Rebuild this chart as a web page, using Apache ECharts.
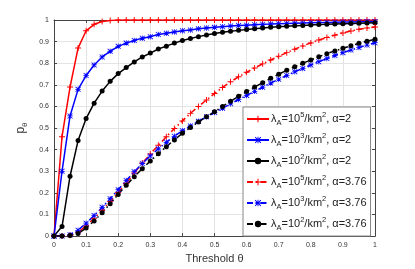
<!DOCTYPE html>
<html><head><meta charset="utf-8">
<script src="https://cdn.jsdelivr.net/npm/echarts@6/dist/echarts.min.js"></script>
<style>html,body{margin:0;padding:0;background:#fff}#c{width:415px;height:269px}</style>
</head><body><div id="c"></div>
<script>
const thresholds = [0,0.025,0.05,0.075,0.1,0.125,0.15,0.175,0.2,0.225,0.25,0.275,0.3,0.325,0.35,0.375,0.4,0.425,0.45,0.475,0.5,0.525,0.55,0.575,0.6,0.625,0.65,0.675,0.7,0.725,0.75,0.775,0.8,0.825,0.85,0.875,0.9,0.925,0.95,0.975,1];
const pL5a2 = [0,0.46,0.69,0.87,0.95,0.98,0.993,0.998,1,1,1,1,1,1,1,1,1,1,1,1,1,1,1,1,1,1,1,1,1,1,1,1,1,1,1,1,1,1,1,1,1];
const pL3a2 = [0,0.30,0.556,0.679,0.743,0.792,0.829,0.855,0.878,0.893,0.905,0.916,0.923,0.933,0.939,0.945,0.95,0.954,0.959,0.963,0.966,0.969,0.972,0.974,0.976,0.978,0.98,0.981,0.983,0.984,0.985,0.986,0.987,0.988,0.989,0.99,0.991,0.991,0.992,0.993,0.993];
const pL2a2 = [0,0.044,0.277,0.442,0.544,0.615,0.671,0.716,0.752,0.78,0.806,0.829,0.847,0.866,0.879,0.893,0.905,0.914,0.923,0.931,0.937,0.943,0.948,0.952,0.956,0.96,0.963,0.966,0.969,0.971,0.973,0.975,0.977,0.979,0.98,0.982,0.983,0.984,0.985,0.986,0.987];
const pL5a376 = [0,0,0.004,0.018,0.047,0.082,0.12,0.16,0.202,0.245,0.292,0.338,0.38,0.42,0.46,0.498,0.533,0.568,0.6,0.63,0.66,0.688,0.714,0.737,0.758,0.778,0.797,0.815,0.832,0.849,0.865,0.88,0.894,0.907,0.919,0.93,0.94,0.949,0.957,0.963,0.968];
const pL3a376 = [0,0,0.006,0.027,0.06,0.095,0.133,0.173,0.215,0.257,0.298,0.336,0.371,0.404,0.434,0.462,0.488,0.51,0.531,0.552,0.572,0.592,0.612,0.632,0.651,0.67,0.689,0.708,0.726,0.743,0.76,0.776,0.792,0.807,0.822,0.836,0.849,0.861,0.873,0.884,0.895];
const pL2a376 = [0,0,0.003,0.012,0.037,0.07,0.108,0.15,0.193,0.235,0.275,0.312,0.347,0.381,0.414,0.445,0.476,0.503,0.528,0.552,0.575,0.6,0.624,0.647,0.669,0.69,0.71,0.73,0.749,0.767,0.784,0.8,0.815,0.83,0.844,0.857,0.869,0.881,0.892,0.902,0.911];
const seriesNames = ['λA=10^5/km^2, α=2','λA=10^3/km^2, α=2','λA=10^2/km^2, α=2','λA=10^5/km^2, α=3.76','λA=10^3/km^2, α=3.76','λA=10^2/km^2, α=3.76'];
const legendRich = [
 '{n|λ}{sub|A}{n|=10}{sup|5}{n|/km}{sup|2}{n|, α=2}',
 '{n|λ}{sub|A}{n|=10}{sup|3}{n|/km}{sup|2}{n|, α=2}',
 '{n|λ}{sub|A}{n|=10}{sup|2}{n|/km}{sup|2}{n|, α=2}',
 '{n|λ}{sub|A}{n|=10}{sup|5}{n|/km}{sup|2}{n|, α=3.76}',
 '{n|λ}{sub|A}{n|=10}{sup|3}{n|/km}{sup|2}{n|, α=3.76}',
 '{n|λ}{sub|A}{n|=10}{sup|2}{n|/km}{sup|2}{n|, α=3.76}'
];
const xTickStep = 0.1, yTickStep = 0.1;

const plusSym = 'path://M0,4.2H10V5.8H0Z M4.2,0H5.8V10H4.2Z';
const starSym = 'path://M0,4.3H10V5.7H0Z M4.3,0H5.7V10H4.3Z M1,0L10,9L9,10L0,1Z M9,0L10,1L1,10L0,9Z';
const dashDot = [6,3,1.5,3];
const valueSets = [pL5a2,pL3a2,pL2a2,pL5a376,pL3a376,pL2a376];
const styles = [
 {c:'#ff0000', t:'solid', s:plusSym, z:7},
 {c:'#0000ff', t:'solid', s:starSym, z:6},
 {c:'#000000', t:'solid', s:'circle', z:5},
 {c:'#ff0000', t:dashDot, s:plusSym, z:7},
 {c:'#0000ff', t:dashDot, s:starSym, z:6},
 {c:'#000000', t:dashDot, s:'circle', z:5}
];
const symSizes = {};
symSizes[plusSym]=6; symSizes[starSym]=5.5; symSizes['circle']=5;

const series = valueSets.map((vals,i)=>({
  name: seriesNames[i], type:'line', xAxisIndex:0, yAxisIndex:0,
  data: thresholds.map((x,j)=>[x,vals[j]]),
  symbol: styles[i].s, symbolSize: symSizes[styles[i].s], showSymbol:true,
  lineStyle:{color:styles[i].c, width:1.5, type:styles[i].t},
  itemStyle:{color:styles[i].c},
  emphasis:{disabled:true}, animation:false
}));

const axisCol = '#444';
const chart = echarts.init(document.getElementById('c'), null, {renderer:'canvas'});
chart.setOption({
  backgroundColor:'#fff',
  animation:false,
  grid:{left:54, right:40, top:20, bottom:31, containLabel:false},
  xAxis:[
   {type:'value', min:0, max:1, interval:xTickStep, position:'bottom',
    name:'Threshold θ', nameLocation:'middle', nameGap:16,
    nameTextStyle:{fontSize:11, color:'#333', fontFamily:'Liberation Sans'},
    axisLine:{show:true, onZero:false, lineStyle:{color:axisCol, width:1}},
    axisTick:{show:true, inside:true, length:3, lineStyle:{color:axisCol}},
    axisLabel:{fontSize:7, color:'#333', margin:5, fontFamily:'Liberation Sans'},
    splitLine:{show:true, lineStyle:{color:'#e4e4e4', width:1}}},
   {type:'value', min:0, max:1, interval:xTickStep, position:'top',
    axisLine:{show:true, onZero:false, lineStyle:{color:axisCol, width:1}},
    axisTick:{show:true, inside:true, length:3, lineStyle:{color:axisCol}},
    axisLabel:{show:false}, splitLine:{show:false}}
  ],
  yAxis:[
   {type:'value', min:0, max:1, interval:yTickStep, position:'left',
    name:'{p|p}{s|θ}', nameLocation:'middle', nameGap:22, nameRotate:90,
    nameTextStyle:{rich:{p:{fontSize:12, color:'#333', fontFamily:'Liberation Sans', lineHeight:16, verticalAlign:'middle'},
                         s:{fontSize:8, color:'#333', fontFamily:'Liberation Sans', lineHeight:16, verticalAlign:'bottom'}}},
    axisLine:{show:true, onZero:false, lineStyle:{color:axisCol, width:1}},
    axisTick:{show:true, inside:true, length:3, lineStyle:{color:axisCol}},
    axisLabel:{fontSize:7, color:'#333', margin:5, fontFamily:'Liberation Sans'},
    splitLine:{show:true, lineStyle:{color:'#e4e4e4', width:1}}},
   {type:'value', min:0, max:1, interval:yTickStep, position:'right',
    axisLine:{show:true, onZero:false, lineStyle:{color:axisCol, width:1}},
    axisTick:{show:true, inside:true, length:3, lineStyle:{color:axisCol}},
    axisLabel:{show:false}, splitLine:{show:false}}
  ],
  legend:{
    orient:'vertical', left:243, top:107, width:129,
    padding:[4,4,4,3], itemGap:5, itemWidth:22, itemHeight:8,
    backgroundColor:'#fff', borderColor:'#888', borderWidth:1, borderRadius:0,
    selectedMode:false,
    data: seriesNames,
    formatter: name => legendRich[seriesNames.indexOf(name)],
    textStyle:{padding:[0,0,0,-3], rich:{
      n:{fontSize:11, color:'#222', fontFamily:'Liberation Sans', lineHeight:16, verticalAlign:'middle'},
      sup:{fontSize:7.5, color:'#222', fontFamily:'Liberation Sans', lineHeight:16, verticalAlign:'top'},
      sub:{fontSize:7.5, color:'#222', fontFamily:'Liberation Sans', lineHeight:16, verticalAlign:'bottom'}
    }}
  },
  series: series
});
</script></body></html>
